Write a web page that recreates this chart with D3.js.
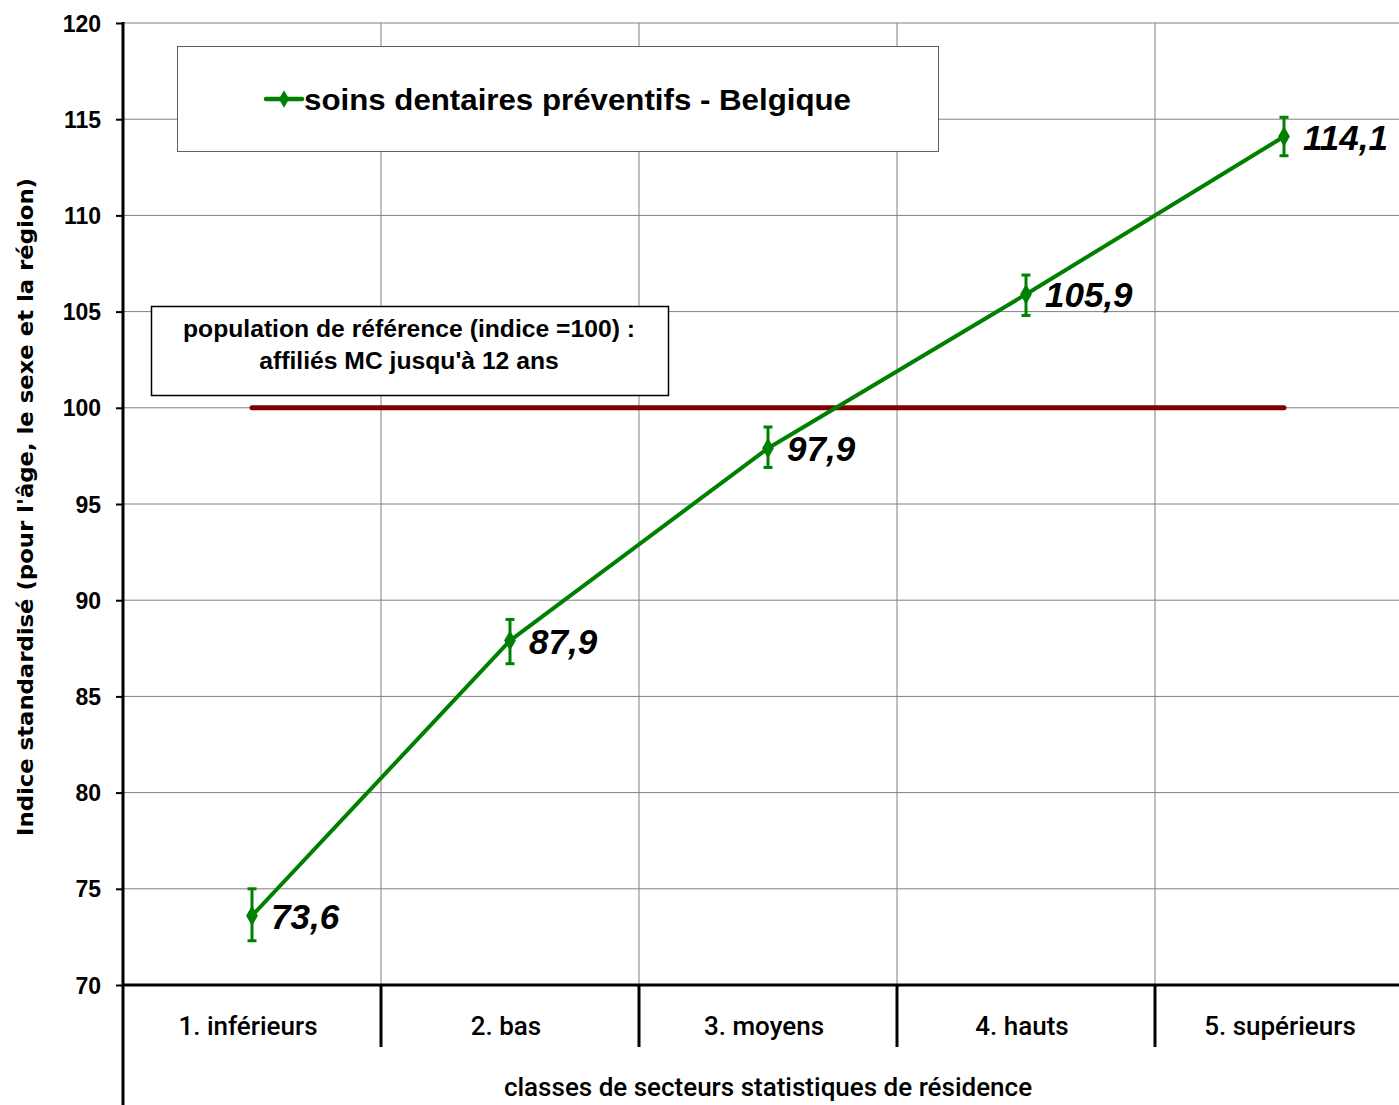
<!DOCTYPE html>
<html><head><meta charset="utf-8">
<script src="https://cdn.jsdelivr.net/npm/d3@7"></script>
<style>body{margin:0;background:#fff;overflow:hidden}svg{display:block}</style>
</head><body>
<svg id="c" width="1399" height="1105"></svg>
<script>
const categories = ["1. inférieurs","2. bas","3. moyens","4. hauts","5. supérieurs"];
const values = [73.6, 87.9, 97.9, 105.9, 114.1];
const errLow = [72.3, 86.7, 96.9, 104.8, 113.1];
const errHigh = [75.0, 89.0, 99.0, 106.9, 115.1];
const labels = ["73,6","87,9","97,9","105,9","114,1"];
const yTicks = [70,75,80,85,90,95,100,105,110,115,120];
const refValue = 100;
const seriesName = "soins dentaires préventifs - Belgique";
const refText = ["population de référence (indice =100) :","affiliés MC jusqu'à 12 ans"];
const yTitle = "Indice standardisé (pour l'âge, le sexe et la région)";
const xTitle = "classes de secteurs statistiques de résidence";

(function(){
const svg = d3.select("#c");
const pLeft = 123, pTop = 23, pBottom = 985, band = 258;
const x = d3.scaleBand().domain(categories).range([pLeft, pLeft + band*categories.length]).padding(0);
const y = d3.scaleLinear().domain([70,120]).range([pBottom, pTop]);
const cx = c => x(c) + x.bandwidth()/2;
const green = "#008000";

// horizontal gridlines
svg.append("g").selectAll("line").data(yTicks.filter(t=>t>70)).join("line")
  .attr("x1", pLeft).attr("x2", 1399).attr("y1", d=>y(d)).attr("y2", d=>y(d))
  .attr("stroke", "#808080").attr("stroke-width", 1);
// vertical gridlines at band boundaries
svg.append("g").selectAll("line").data(categories.slice(1)).join("line")
  .attr("x1", d=>x(d)).attr("x2", d=>x(d)).attr("y1", pTop).attr("y2", pBottom)
  .attr("stroke", "#808080").attr("stroke-width", 1);
// category separator ticks below axis
svg.append("g").selectAll("line").data(categories.slice(1)).join("line")
  .attr("x1", d=>x(d)).attr("x2", d=>x(d)).attr("y1", pBottom).attr("y2", 1047)
  .attr("stroke", "#000").attr("stroke-width", 3);

// y axis
const yAxis = d3.axisLeft(y).tickValues(yTicks).tickSize(7).tickPadding(15).tickFormat(d3.format("d"));
const ga = svg.append("g").attr("transform", `translate(${pLeft},0)`).call(yAxis);
ga.select(".domain").remove();
ga.selectAll(".tick line").attr("stroke", "#000").attr("stroke-width", 2);
ga.selectAll(".tick text").attr("font-family", "Liberation Sans, Arial").attr("font-weight", "bold")
  .attr("font-size", 23).attr("fill", "#000").attr("dy", "0.35em");
svg.append("line").attr("x1", pLeft).attr("x2", pLeft).attr("y1", pTop-1).attr("y2", 1105)
  .attr("stroke", "#000").attr("stroke-width", 3);
// x axis line
svg.append("line").attr("x1", pLeft).attr("x2", 1399).attr("y1", pBottom).attr("y2", pBottom)
  .attr("stroke", "#000").attr("stroke-width", 3);

// category labels
svg.append("g").selectAll("text").data(categories).join("text")
  .attr("x", d=>cx(d)-4).attr("y", 1035).attr("text-anchor", "middle")
  .attr("font-family", "Roboto").attr("font-weight", 500).attr("font-size", 26).attr("fill", "#000")
  .text(d=>d);
svg.append("text").attr("x", 768).attr("y", 1096).attr("text-anchor", "middle")
  .attr("font-family", "Roboto").attr("font-weight", 500).attr("font-size", 26).attr("fill", "#000")
  .text(xTitle);
svg.append("text").attr("transform", "translate(33,507) rotate(-90)").attr("text-anchor", "middle")
  .attr("font-family", "DejaVu Sans").attr("font-weight", "bold").attr("font-size", 21).attr("fill", "#000")
  .attr("textLength", 658).attr("lengthAdjust", "spacingAndGlyphs")
  .text(yTitle);

// reference line
svg.append("line").attr("x1", cx(categories[0])).attr("x2", cx(categories[4]))
  .attr("y1", y(refValue)).attr("y2", y(refValue))
  .attr("stroke", "#800000").attr("stroke-width", 5).attr("stroke-linecap", "round");

// legend box
svg.append("rect").attr("x", 177.5).attr("y", 46.5).attr("width", 761).attr("height", 105)
  .attr("fill", "#fff").attr("stroke", "#606060").attr("stroke-width", 1);
svg.append("line").attr("x1", 266).attr("x2", 302).attr("y1", 99).attr("y2", 99)
  .attr("stroke", green).attr("stroke-width", 4.5).attr("stroke-linecap", "round");
svg.append("path").attr("d", d3.symbol(d3.symbolDiamond, 90)()).attr("transform", "translate(284,99)").attr("fill", green);
svg.append("text").attr("x", 304).attr("y", 110)
  .attr("font-family", "Liberation Sans, Arial").attr("font-weight", "bold").attr("font-size", 30)
  .attr("fill", "#000").attr("textLength", 547).attr("lengthAdjust", "spacingAndGlyphs").text(seriesName);

// reference box
svg.append("rect").attr("x", 151.5).attr("y", 306.5).attr("width", 517).attr("height", 89)
  .attr("fill", "#fff").attr("stroke", "#000").attr("stroke-width", 1.5);
svg.append("g").selectAll("text").data(refText).join("text")
  .attr("x", 409).attr("y", (d,i)=>337 + i*32).attr("text-anchor", "middle")
  .attr("font-family", "Liberation Sans, Arial").attr("font-weight", "bold").attr("font-size", 24.7)
  .attr("fill", "#000").text(d=>d);

// series line
const pts = categories.map((c,i)=>({c, v: values[i], lo: errLow[i], hi: errHigh[i], l: labels[i]}));
svg.append("path").datum(pts).attr("fill", "none").attr("stroke", green).attr("stroke-width", 4)
  .attr("stroke-linejoin", "round")
  .attr("d", d3.line().x(d=>cx(d.c)).y(d=>y(d.v)));
// error bars
const eb = svg.append("g").attr("stroke", green).attr("stroke-width", 3);
eb.selectAll(".v").data(pts).join("line").attr("class","v").attr("x1", d=>cx(d.c)).attr("x2", d=>cx(d.c))
  .attr("y1", d=>y(d.lo)).attr("y2", d=>y(d.hi));
eb.selectAll(".t").data(pts).join("line").attr("class","t").attr("x1", d=>cx(d.c)-4.5).attr("x2", d=>cx(d.c)+4.5)
  .attr("y1", d=>y(d.hi)).attr("y2", d=>y(d.hi));
eb.selectAll(".b").data(pts).join("line").attr("class","b").attr("x1", d=>cx(d.c)-4.5).attr("x2", d=>cx(d.c)+4.5)
  .attr("y1", d=>y(d.lo)).attr("y2", d=>y(d.lo));
// markers
svg.append("g").selectAll("path").data(pts).join("path")
  .attr("d", d3.symbol(d3.symbolDiamond, 120)())
  .attr("transform", d=>`translate(${cx(d.c)},${y(d.v)})`).attr("fill", green);
// data labels
svg.append("g").selectAll("text").data(pts).join("text")
  .attr("x", d=>cx(d.c)+19).attr("y", d=>y(d.v)+13)
  .attr("font-family", "Liberation Sans, Arial").attr("font-weight", "bold").attr("font-style", "italic")
  .attr("font-size", 35).attr("fill", "#000").text(d=>d.l);
})();
</script>
</body></html>
